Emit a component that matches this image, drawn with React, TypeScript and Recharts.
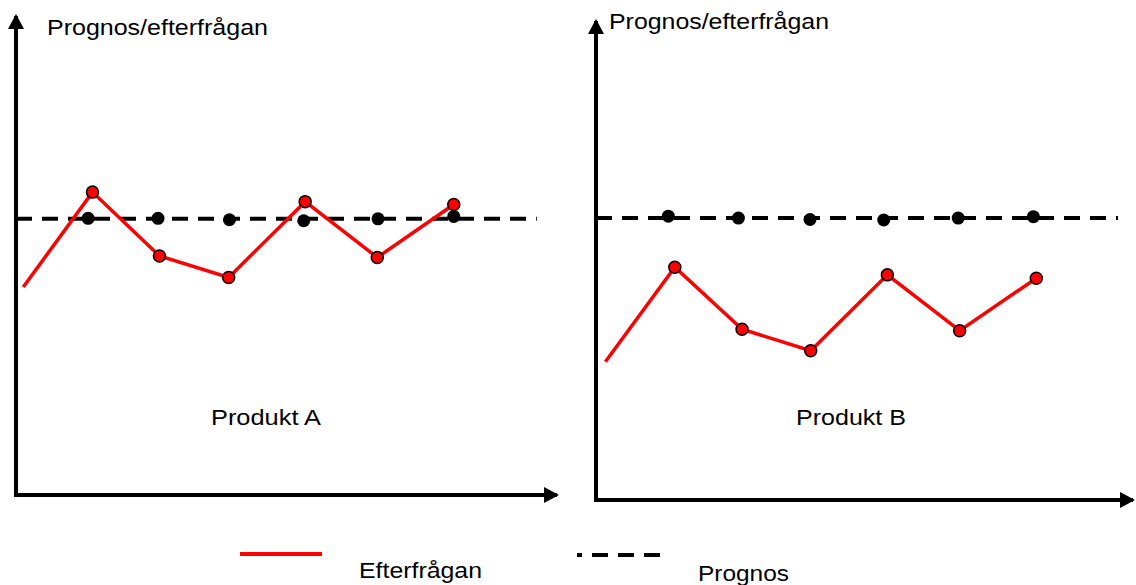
import React from 'react';
import { LineChart, Line, XAxis, YAxis } from 'recharts';

// Produkt A
const demandPeriodsA = [0.1, 1.05, 1.97, 2.92, 3.97, 4.96, 6.01];
const demandA = [43.6, 63.5, 50.1, 45.6, 61.5, 49.8, 60.9];
const forecastPeriodsA = [0.99, 1.95, 2.93, 3.95, 4.97, 6.01];
const forecastA = [58.0, 58.0, 57.7, 57.5, 57.9, 58.4];
const prognosLevelA = 57.9;
const prognosSpanA = [0, 7.15];

// Produkt B
const demandPeriodsB = [0.13, 1.09, 2.02, 2.97, 4.03, 5.03, 6.09];
const demandB = [29.0, 48.8, 35.8, 31.3, 47.2, 35.5, 46.5];
const forecastPeriodsB = [1.0, 1.97, 2.96, 3.98, 5.01, 6.05];
const forecastB = [59.5, 59.1, 58.8, 58.7, 59.1, 59.4];
const prognosLevelB = 59.1;
const prognosSpanB = [0, 7.22];

const axisTitle = 'Prognos/efterfrågan';
const productLabels = ['Produkt A', 'Produkt B'];
const legendLabels = ['Efterfrågan', 'Prognos'];

const FONT = '"Liberation Sans", Arial, sans-serif';
const RED = '#ff0000';

const toPoints = (xs: number[], ys: number[]) => xs.map((x, i) => ({ x, y: ys[i] }));

const RedDot = (props: any) => {
    const { cx, cy, index } = props;
    if (index === 0 || cx == null) return <g key={`rd-${index}`} />;
    return <circle key={`rd-${index}`} cx={cx} cy={cy} r={6} fill={RED} stroke="#000" strokeWidth={1.5} />;
};

interface PanelProps {
    left: number;
    width: number;
    margin: { top: number; right: number; bottom: number; left: number };
    demand: { x: number; y: number }[];
    forecast: { x: number; y: number }[];
    prognos: { x: number; y: number }[];
}

// axes take 1px each (0 would make recharts skip drawing them)
const Panel = ({ left, width, margin, demand, forecast, prognos }: PanelProps) => (
    <div style={{ position: 'absolute', left, top: 0 }}>
        <LineChart width={width} height={585} margin={margin} style={{ overflow: 'visible' }}>
            <XAxis
                type="number"
                dataKey="x"
                domain={[0, 7.4]}
                height={1}
                tick={false}
                tickLine={false}
                axisLine={{ stroke: '#000', strokeWidth: 4, strokeLinecap: 'square', markerEnd: 'url(#axisArrow)' }}
            />
            <YAxis
                type="number"
                dataKey="y"
                domain={[0, 100]}
                width={1}
                tick={false}
                tickLine={false}
                axisLine={{ stroke: '#000', strokeWidth: 4, strokeLinecap: 'square', markerStart: 'url(#axisArrow)' }}
            />
            <Line
                data={prognos}
                dataKey="y"
                type="linear"
                stroke="#000"
                strokeWidth={4}
                strokeDasharray="16 10"
                dot={false}
                activeDot={false}
                isAnimationActive={false}
            />
            <Line
                data={forecast}
                dataKey="y"
                type="linear"
                stroke="none"
                strokeWidth={0}
                dot={{ r: 6.5, fill: '#000', stroke: 'none' }}
                activeDot={false}
                isAnimationActive={false}
            />
            <Line
                data={demand}
                dataKey="y"
                type="linear"
                stroke={RED}
                strokeWidth={3.5}
                dot={RedDot}
                activeDot={false}
                isAnimationActive={false}
            />
        </LineChart>
    </div>
);

export default function App() {
    return (
        <div style={{ position: 'absolute', left: 0, top: 0, width: 1136, height: 585, background: '#fff', fontFamily: FONT }}>
            <svg width={0} height={0} style={{ position: 'absolute' }}>
                <defs>
                    <marker
                        id="axisArrow"
                        viewBox="0 0 15 16"
                        markerWidth={15}
                        markerHeight={16}
                        refX={11}
                        refY={8}
                        markerUnits="userSpaceOnUse"
                        orient="auto-start-reverse"
                    >
                        <path d="M0,0 L15,8 L0,16 Z" fill="#000" />
                    </marker>
                </defs>
            </svg>
            <Panel
                left={0}
                width={568}
                margin={{ top: 18, right: 13, bottom: 89, left: 15 }}
                demand={toPoints(demandPeriodsA, demandA)}
                forecast={toPoints(forecastPeriodsA, forecastA)}
                prognos={toPoints(prognosSpanA, [prognosLevelA, prognosLevelA])}
            />
            <Panel
                left={568}
                width={568}
                margin={{ top: 23, right: 5, bottom: 84, left: 27 }}
                demand={toPoints(demandPeriodsB, demandB)}
                forecast={toPoints(forecastPeriodsB, forecastB)}
                prognos={toPoints(prognosSpanB, [prognosLevelB, prognosLevelB])}
            />
            <svg width={1136} height={585} style={{ position: 'absolute', left: 0, top: 0, pointerEvents: 'none', overflow: 'visible' }}>
                <g fontFamily={FONT} fontSize={22} fill="#000">
                    <text x={47} y={35} textLength={221} lengthAdjust="spacingAndGlyphs">{axisTitle}</text>
                    <text x={609} y={29} textLength={220} lengthAdjust="spacingAndGlyphs">{axisTitle}</text>
                    <text x={211} y={425} textLength={110} lengthAdjust="spacingAndGlyphs">{productLabels[0]}</text>
                    <text x={796} y={425} textLength={110} lengthAdjust="spacingAndGlyphs">{productLabels[1]}</text>
                    <text x={359} y={578} textLength={123} lengthAdjust="spacingAndGlyphs">{legendLabels[0]}</text>
                    <text x={698} y={581} textLength={91} lengthAdjust="spacingAndGlyphs">{legendLabels[1]}</text>
                </g>
                <line x1={240} y1={554} x2={322} y2={554} stroke={RED} strokeWidth={4} />
                <line x1={577} y1={555} x2={660} y2={555} stroke="#000" strokeWidth={4} strokeDasharray="16 10" strokeDashoffset={11} />
            </svg>
        </div>
    );
}
